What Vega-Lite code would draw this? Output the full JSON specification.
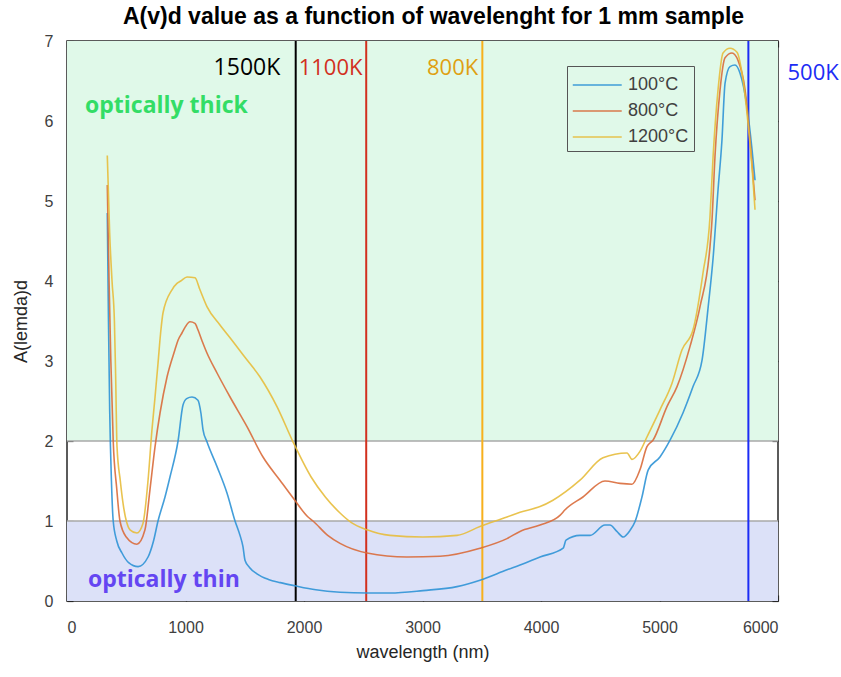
{
  "$schema": "https://vega.github.io/schema/vega-lite/v6.json",
  "width": 711,
  "height": 560,
  "autosize": {"type": "none"},
  "padding": {"left": 67, "top": 41, "right": 63, "bottom": 76},
  "background": "white",
  "title": {"text": "A(v)d value as a function of wavelenght for 1 mm sample", "font": "Liberation Sans", "fontSize": 23, "fontWeight": "bold", "color": "#000000", "offset": 4, "anchor": "middle", "dx": 11},
  "config": {
    "view": {"stroke": "#262626", "strokeWidth": 1.5},
    "axis": {"labelFont": "Liberation Sans", "labelFontSize": 16, "labelColor": "#404040", "titleFont": "Liberation Sans", "titleFontSize": 18, "titleFontWeight": "normal", "titleColor": "#262626", "grid": false, "domain": false, "zindex": 2}
  },
  "datasets": {
    "bands": [
      {"band": "thick", "lo": 2, "hi": 7},
      {"band": "thin", "lo": 0, "hi": 1}
    ],
    "levels": [{"a": 1}, {"a": 2}],
    "temps": [
      {"k": "1500K", "w": 1930, "lx": 1800, "ly": 6.57},
      {"k": "1100K", "w": 2525, "lx": 1955, "ly": 6.57},
      {"k": "800K", "w": 3505, "lx": 3470, "ly": 6.57},
      {"k": "500K", "w": 5750, "lx": 6080, "ly": 6.51}
    ],
    "zones": [
      {"t": "optically thick", "lx": 152, "ly": 6.1},
      {"t": "optically thin", "lx": 177, "ly": 0.175}
    ],
    "curves": [
      {"s": "100°C", "w": 340, "a": 4.85}, {"s": "100°C", "w": 350, "a": 3.5}, {"s": "100°C", "w": 360, "a": 2.4}, {"s": "100°C", "w": 375, "a": 1.5}, {"s": "100°C", "w": 390, "a": 1.0}, {"s": "100°C", "w": 420, "a": 0.75}, {"s": "100°C", "w": 464, "a": 0.6}, {"s": "100°C", "w": 520, "a": 0.48}, {"s": "100°C", "w": 600, "a": 0.43}, {"s": "100°C", "w": 684, "a": 0.55}, {"s": "100°C", "w": 730, "a": 0.75}, {"s": "100°C", "w": 768, "a": 1.0}, {"s": "100°C", "w": 827, "a": 1.3}, {"s": "100°C", "w": 869, "a": 1.55}, {"s": "100°C", "w": 937, "a": 2.0}, {"s": "100°C", "w": 979, "a": 2.45}, {"s": "100°C", "w": 1010, "a": 2.53}, {"s": "100°C", "w": 1055, "a": 2.55}, {"s": "100°C", "w": 1105, "a": 2.51}, {"s": "100°C", "w": 1130, "a": 2.35}, {"s": "100°C", "w": 1148, "a": 2.14}, {"s": "100°C", "w": 1181, "a": 1.99}, {"s": "100°C", "w": 1266, "a": 1.68}, {"s": "100°C", "w": 1350, "a": 1.35}, {"s": "100°C", "w": 1418, "a": 1.0}, {"s": "100°C", "w": 1460, "a": 0.82}, {"s": "100°C", "w": 1485, "a": 0.68}, {"s": "100°C", "w": 1502, "a": 0.51}, {"s": "100°C", "w": 1540, "a": 0.42}, {"s": "100°C", "w": 1603, "a": 0.34}, {"s": "100°C", "w": 1700, "a": 0.27}, {"s": "100°C", "w": 1800, "a": 0.23}, {"s": "100°C", "w": 1924, "a": 0.19}, {"s": "100°C", "w": 2100, "a": 0.14}, {"s": "100°C", "w": 2304, "a": 0.11}, {"s": "100°C", "w": 2532, "a": 0.1}, {"s": "100°C", "w": 2726, "a": 0.1}, {"s": "100°C", "w": 3004, "a": 0.13}, {"s": "100°C", "w": 3291, "a": 0.18}, {"s": "100°C", "w": 3485, "a": 0.26}, {"s": "100°C", "w": 3713, "a": 0.39}, {"s": "100°C", "w": 3823, "a": 0.45}, {"s": "100°C", "w": 3992, "a": 0.55}, {"s": "100°C", "w": 4187, "a": 0.66}, {"s": "100°C", "w": 4211, "a": 0.76}, {"s": "100°C", "w": 4329, "a": 0.82}, {"s": "100°C", "w": 4414, "a": 0.82}, {"s": "100°C", "w": 4540, "a": 0.95}, {"s": "100°C", "w": 4582, "a": 0.95}, {"s": "100°C", "w": 4640, "a": 0.87}, {"s": "100°C", "w": 4694, "a": 0.8}, {"s": "100°C", "w": 4750, "a": 0.88}, {"s": "100°C", "w": 4793, "a": 0.99}, {"s": "100°C", "w": 4852, "a": 1.3}, {"s": "100°C", "w": 4905, "a": 1.64}, {"s": "100°C", "w": 5004, "a": 1.8}, {"s": "100°C", "w": 5089, "a": 2.01}, {"s": "100°C", "w": 5198, "a": 2.35}, {"s": "100°C", "w": 5283, "a": 2.68}, {"s": "100°C", "w": 5359, "a": 3.01}, {"s": "100°C", "w": 5411, "a": 3.68}, {"s": "100°C", "w": 5453, "a": 4.3}, {"s": "100°C", "w": 5494, "a": 5.14}, {"s": "100°C", "w": 5527, "a": 5.76}, {"s": "100°C", "w": 5553, "a": 6.47}, {"s": "100°C", "w": 5595, "a": 6.68}, {"s": "100°C", "w": 5637, "a": 6.7}, {"s": "100°C", "w": 5679, "a": 6.6}, {"s": "100°C", "w": 5738, "a": 6.18}, {"s": "100°C", "w": 5781, "a": 5.64}, {"s": "100°C", "w": 5806, "a": 5.26},
      {"s": "800°C", "w": 340, "a": 5.2}, {"s": "800°C", "w": 355, "a": 4.0}, {"s": "800°C", "w": 370, "a": 3.0}, {"s": "800°C", "w": 390, "a": 2.0}, {"s": "800°C", "w": 420, "a": 1.4}, {"s": "800°C", "w": 447, "a": 1.0}, {"s": "800°C", "w": 500, "a": 0.8}, {"s": "800°C", "w": 590, "a": 0.71}, {"s": "800°C", "w": 658, "a": 0.89}, {"s": "800°C", "w": 700, "a": 1.39}, {"s": "800°C", "w": 743, "a": 1.93}, {"s": "800°C", "w": 785, "a": 2.35}, {"s": "800°C", "w": 844, "a": 2.8}, {"s": "800°C", "w": 911, "a": 3.14}, {"s": "800°C", "w": 937, "a": 3.26}, {"s": "800°C", "w": 970, "a": 3.35}, {"s": "800°C", "w": 996, "a": 3.42}, {"s": "800°C", "w": 1038, "a": 3.49}, {"s": "800°C", "w": 1080, "a": 3.47}, {"s": "800°C", "w": 1105, "a": 3.39}, {"s": "800°C", "w": 1140, "a": 3.25}, {"s": "800°C", "w": 1181, "a": 3.1}, {"s": "800°C", "w": 1266, "a": 2.85}, {"s": "800°C", "w": 1376, "a": 2.55}, {"s": "800°C", "w": 1519, "a": 2.18}, {"s": "800°C", "w": 1654, "a": 1.8}, {"s": "800°C", "w": 1797, "a": 1.51}, {"s": "800°C", "w": 1907, "a": 1.29}, {"s": "800°C", "w": 2034, "a": 1.05}, {"s": "800°C", "w": 2076, "a": 1.0}, {"s": "800°C", "w": 2200, "a": 0.82}, {"s": "800°C", "w": 2304, "a": 0.72}, {"s": "800°C", "w": 2532, "a": 0.6}, {"s": "800°C", "w": 2869, "a": 0.55}, {"s": "800°C", "w": 3148, "a": 0.56}, {"s": "800°C", "w": 3485, "a": 0.66}, {"s": "800°C", "w": 3713, "a": 0.78}, {"s": "800°C", "w": 3823, "a": 0.87}, {"s": "800°C", "w": 3992, "a": 0.95}, {"s": "800°C", "w": 4160, "a": 1.07}, {"s": "800°C", "w": 4203, "a": 1.14}, {"s": "800°C", "w": 4354, "a": 1.3}, {"s": "800°C", "w": 4540, "a": 1.5}, {"s": "800°C", "w": 4667, "a": 1.47}, {"s": "800°C", "w": 4768, "a": 1.46}, {"s": "800°C", "w": 4835, "a": 1.64}, {"s": "800°C", "w": 4894, "a": 1.93}, {"s": "800°C", "w": 4945, "a": 2.01}, {"s": "800°C", "w": 5063, "a": 2.43}, {"s": "800°C", "w": 5148, "a": 2.68}, {"s": "800°C", "w": 5257, "a": 3.18}, {"s": "800°C", "w": 5342, "a": 3.68}, {"s": "800°C", "w": 5426, "a": 4.43}, {"s": "800°C", "w": 5443, "a": 4.76}, {"s": "800°C", "w": 5468, "a": 5.55}, {"s": "800°C", "w": 5511, "a": 6.39}, {"s": "800°C", "w": 5553, "a": 6.79}, {"s": "800°C", "w": 5612, "a": 6.85}, {"s": "800°C", "w": 5662, "a": 6.76}, {"s": "800°C", "w": 5722, "a": 6.39}, {"s": "800°C", "w": 5764, "a": 5.76}, {"s": "800°C", "w": 5806, "a": 5.01},
      {"s": "1200°C", "w": 340, "a": 5.57}, {"s": "1200°C", "w": 360, "a": 4.6}, {"s": "1200°C", "w": 380, "a": 4.0}, {"s": "1200°C", "w": 400, "a": 3.5}, {"s": "1200°C", "w": 410, "a": 2.85}, {"s": "1200°C", "w": 422, "a": 1.93}, {"s": "1200°C", "w": 450, "a": 1.5}, {"s": "1200°C", "w": 473, "a": 1.22}, {"s": "1200°C", "w": 532, "a": 0.89}, {"s": "1200°C", "w": 590, "a": 0.85}, {"s": "1200°C", "w": 641, "a": 0.97}, {"s": "1200°C", "w": 684, "a": 1.51}, {"s": "1200°C", "w": 717, "a": 2.14}, {"s": "1200°C", "w": 743, "a": 2.55}, {"s": "1200°C", "w": 768, "a": 2.97}, {"s": "1200°C", "w": 790, "a": 3.35}, {"s": "1200°C", "w": 810, "a": 3.6}, {"s": "1200°C", "w": 886, "a": 3.89}, {"s": "1200°C", "w": 928, "a": 3.97}, {"s": "1200°C", "w": 960, "a": 4.0}, {"s": "1200°C", "w": 1013, "a": 4.05}, {"s": "1200°C", "w": 1080, "a": 4.04}, {"s": "1200°C", "w": 1122, "a": 3.89}, {"s": "1200°C", "w": 1181, "a": 3.68}, {"s": "1200°C", "w": 1291, "a": 3.45}, {"s": "1200°C", "w": 1392, "a": 3.26}, {"s": "1200°C", "w": 1500, "a": 3.05}, {"s": "1200°C", "w": 1629, "a": 2.8}, {"s": "1200°C", "w": 1772, "a": 2.43}, {"s": "1200°C", "w": 1907, "a": 1.99}, {"s": "1200°C", "w": 2060, "a": 1.55}, {"s": "1200°C", "w": 2180, "a": 1.3}, {"s": "1200°C", "w": 2304, "a": 1.1}, {"s": "1200°C", "w": 2400, "a": 0.98}, {"s": "1200°C", "w": 2532, "a": 0.89}, {"s": "1200°C", "w": 2726, "a": 0.82}, {"s": "1200°C", "w": 3004, "a": 0.8}, {"s": "1200°C", "w": 3291, "a": 0.82}, {"s": "1200°C", "w": 3485, "a": 0.93}, {"s": "1200°C", "w": 3713, "a": 1.05}, {"s": "1200°C", "w": 3823, "a": 1.11}, {"s": "1200°C", "w": 3992, "a": 1.18}, {"s": "1200°C", "w": 4101, "a": 1.26}, {"s": "1200°C", "w": 4329, "a": 1.51}, {"s": "1200°C", "w": 4523, "a": 1.79}, {"s": "1200°C", "w": 4726, "a": 1.85}, {"s": "1200°C", "w": 4768, "a": 1.77}, {"s": "1200°C", "w": 4835, "a": 1.87}, {"s": "1200°C", "w": 4894, "a": 2.05}, {"s": "1200°C", "w": 5004, "a": 2.39}, {"s": "1200°C", "w": 5105, "a": 2.72}, {"s": "1200°C", "w": 5190, "a": 3.14}, {"s": "1200°C", "w": 5283, "a": 3.39}, {"s": "1200°C", "w": 5367, "a": 4.1}, {"s": "1200°C", "w": 5426, "a": 4.8}, {"s": "1200°C", "w": 5452, "a": 5.55}, {"s": "1200°C", "w": 5494, "a": 6.39}, {"s": "1200°C", "w": 5536, "a": 6.85}, {"s": "1200°C", "w": 5595, "a": 6.91}, {"s": "1200°C", "w": 5654, "a": 6.86}, {"s": "1200°C", "w": 5705, "a": 6.51}, {"s": "1200°C", "w": 5747, "a": 5.97}, {"s": "1200°C", "w": 5789, "a": 5.26}, {"s": "1200°C", "w": 5806, "a": 4.89}
    ]
  },
  "layer": [
    {
      "data": {"name": "bands"},
      "mark": {"type": "rect"},
      "encoding": {
        "y": {"field": "lo", "type": "quantitative", "scale": {"domain": [0, 7], "nice": false, "zero": false}, "axis": {"title": "A(lemda)d", "values": [0, 1, 2, 3, 4, 5, 6, 7], "labelPadding": 14, "titlePadding": 14, "ticks": true, "tickSize": 6, "offset": -6, "tickColor": "#262626", "tickWidth": 1.2}},
        "y2": {"field": "hi"},
        "fill": {"field": "band", "type": "nominal", "scale": {"domain": ["thick", "thin"], "range": ["#e0f9e9", "#dce1f8"]}, "legend": null}
      }
    },
    {
      "data": {"name": "levels"},
      "mark": {"type": "rule", "color": "#a8a8a8", "strokeWidth": 1.5},
      "encoding": {"y": {"field": "a", "type": "quantitative", "axis": null}}
    },
    {
      "data": {"name": "temps"},
      "mark": {"type": "rule", "strokeWidth": 2},
      "encoding": {
        "x": {"field": "w", "type": "quantitative", "axis": null},
        "stroke": {"field": "k", "type": "nominal", "scale": {"domain": ["1500K", "1100K", "800K", "500K"], "range": ["#000000", "#d2301e", "#f7b01c", "#1c2cf5"]}, "legend": null}
      }
    },
    {
      "data": {"name": "curves"},
      "mark": {"type": "line", "strokeWidth": 1.6, "opacity": 0.9, "interpolate": "monotone"},
      "encoding": {
        "x": {"field": "w", "type": "quantitative", "scale": {"domain": [0, 6000], "nice": false}, "axis": {"title": "wavelength (nm)", "values": [0, 1000, 2000, 3000, 4000, 5000, 6000], "format": "d", "labelPadding": 18, "titlePadding": 8, "ticks": true, "tickSize": 6, "offset": -6, "tickColor": "#262626", "tickWidth": 1.2}},
        "y": {"field": "a", "type": "quantitative", "axis": null},
        "color": {"field": "s", "type": "nominal", "sort": null, "scale": {"domain": ["100°C", "800°C", "1200°C"], "range": ["#2f93d6", "#d96b3b", "#e7bd3c"]},
          "legend": {"orient": "none", "legendX": 500, "legendY": 25, "title": null, "symbolType": "M-1,0L2.7,0", "symbolSize": 700, "symbolStrokeWidth": 1.5, "labelFont": "Liberation Sans", "labelFontSize": 18, "labelColor": "#404040", "strokeColor": "#555555", "fillColor": "#e0f9e9", "padding": 5, "labelOffset": 28, "rowPadding": 3}}
      }
    },
    {
      "data": {"name": "curves"},
      "mark": {"type": "point", "opacity": 0},
      "encoding": {
        "x": {"field": "w", "type": "quantitative", "axis": {"orient": "top", "labels": false, "title": null, "values": [0, 1000, 2000, 3000, 4000, 5000, 6000], "ticks": true, "tickSize": 6, "offset": -6, "tickColor": "#262626", "tickWidth": 1.2}},
        "y": {"field": "a", "type": "quantitative", "axis": {"orient": "right", "labels": false, "title": null, "values": [0, 1, 2, 3, 4, 5, 6, 7], "ticks": true, "tickSize": 6, "offset": -6, "tickColor": "#262626", "tickWidth": 1.2}}
      }
    },
    {
      "data": {"name": "temps"},
      "transform": [{"filter": "datum.k == '1500K'"}],
      "mark": {"type": "text", "align": "right", "baseline": "alphabetic", "font": "Open Sans", "fontSize": 23, "color": "#000000"},
      "encoding": {"x": {"field": "lx", "type": "quantitative", "axis": null}, "y": {"field": "ly", "type": "quantitative", "axis": null}, "text": {"field": "k"}}
    },
    {
      "data": {"name": "temps"},
      "transform": [{"filter": "datum.k == '1100K'"}],
      "mark": {"type": "text", "align": "left", "baseline": "alphabetic", "font": "Open Sans", "fontSize": 22, "color": "#d2301e"},
      "encoding": {"x": {"field": "lx", "type": "quantitative", "axis": null}, "y": {"field": "ly", "type": "quantitative", "axis": null}, "text": {"field": "k"}}
    },
    {
      "data": {"name": "temps"},
      "transform": [{"filter": "datum.k == '800K'"}],
      "mark": {"type": "text", "align": "right", "baseline": "alphabetic", "font": "Open Sans", "fontSize": 22, "color": "#dfa011"},
      "encoding": {"x": {"field": "lx", "type": "quantitative", "axis": null}, "y": {"field": "ly", "type": "quantitative", "axis": null}, "text": {"field": "k"}}
    },
    {
      "data": {"name": "temps"},
      "transform": [{"filter": "datum.k == '500K'"}],
      "mark": {"type": "text", "align": "left", "baseline": "alphabetic", "font": "Open Sans", "fontSize": 22, "color": "#1c2cf5"},
      "encoding": {"x": {"field": "lx", "type": "quantitative", "axis": null}, "y": {"field": "ly", "type": "quantitative", "axis": null}, "text": {"field": "k"}}
    },
    {
      "data": {"name": "zones"},
      "transform": [{"filter": "datum.t == 'optically thick'"}],
      "mark": {"type": "text", "align": "left", "baseline": "alphabetic", "font": "Open Sans", "fontSize": 23, "fontWeight": "bold", "color": "#33dd66"},
      "encoding": {"x": {"field": "lx", "type": "quantitative", "axis": null}, "y": {"field": "ly", "type": "quantitative", "axis": null}, "text": {"field": "t"}}
    },
    {
      "data": {"name": "zones"},
      "transform": [{"filter": "datum.t == 'optically thin'"}],
      "mark": {"type": "text", "align": "left", "baseline": "alphabetic", "font": "Open Sans", "fontSize": 23, "fontWeight": "bold", "color": "#6446f2"},
      "encoding": {"x": {"field": "lx", "type": "quantitative", "axis": null}, "y": {"field": "ly", "type": "quantitative", "axis": null}, "text": {"field": "t"}}
    }
  ],
  "resolve": {"axis": {"x": "independent", "y": "independent"}}
}
